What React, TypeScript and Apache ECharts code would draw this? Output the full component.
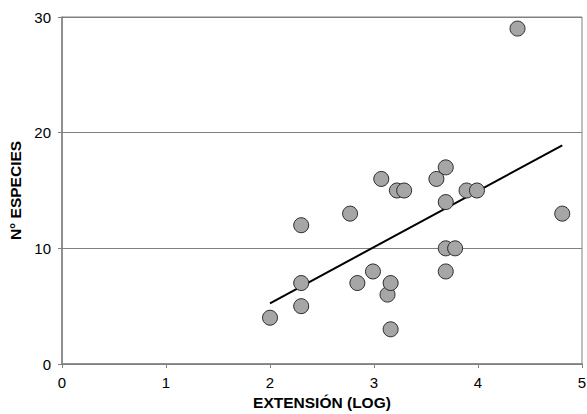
import React, { useEffect, useRef } from "react";
import * as echarts from "echarts";

const xValues = [2.0, 2.3, 2.3, 2.3, 2.77, 2.84, 2.99, 3.07, 3.13, 3.16, 3.16, 3.22, 3.29, 3.6, 3.69, 3.69, 3.69, 3.78, 3.69, 3.89, 3.99, 4.38, 4.81];
const yValues = [4, 12, 7, 5, 13, 7, 8, 16, 6, 7, 3, 15, 15, 16, 17, 14, 10, 10, 8, 15, 15, 29, 13];
const trendX = [2.0, 4.81];
const trendY = [5.25, 18.9];
const xTicks = [0, 1, 2, 3, 4, 5];
const yTicks = [0, 10, 20, 30];

export default function App() {
  const ref = useRef<HTMLDivElement>(null);
  useEffect(() => {
    if (!ref.current) return;
    const chart = echarts.init(ref.current, null, { renderer: "svg" });
    const font = "'Liberation Sans', Arial, sans-serif";
    chart.setOption({
      animation: false,
      backgroundColor: "#ffffff",
      grid: {
        left: 62,
        right: 5,
        top: 17,
        bottom: 50,
        outerBoundsMode: "none",
        containLabel: false,
        show: true,
        borderColor: "#808080",
        borderWidth: 1,
      },
      xAxis: {
        type: "value",
        min: xTicks[0],
        max: xTicks[xTicks.length - 1],
        interval: 1,
        name: "EXTENSIÓN (LOG)",
        nameLocation: "middle",
        nameGap: 30,
        nameTextStyle: { fontFamily: font, fontWeight: "bold", fontSize: 15.5, color: "#000" },
        axisLine: { show: true, lineStyle: { color: "#808080", width: 1.5 } },
        axisTick: { show: true, length: 4, lineStyle: { color: "#808080" } },
        axisLabel: { fontFamily: font, fontSize: 15, color: "#000", margin: 11 },
        splitLine: { show: false },
      },
      yAxis: {
        type: "value",
        min: yTicks[0],
        max: yTicks[yTicks.length - 1],
        interval: 10,
        name: "N° ESPECIES",
        nameLocation: "middle",
        nameGap: 36,
        nameRotate: 90,
        nameTextStyle: { fontFamily: font, fontWeight: "bold", fontSize: 15.5, color: "#000" },
        axisLine: { show: true, lineStyle: { color: "#808080", width: 1.5 } },
        axisTick: { show: true, length: 4, lineStyle: { color: "#808080" } },
        axisLabel: { fontFamily: font, fontSize: 15, color: "#000", margin: 11 },
        splitLine: { show: true, lineStyle: { color: "#808080", width: 1 } },
      },
      series: [
        {
          type: "line",
          data: trendX.map((x, i) => [x, trendY[i]]),
          showSymbol: false,
          symbol: "none",
          lineStyle: { color: "#000", width: 2 },
          z: 3,
        },
        {
          type: "scatter",
          data: xValues.map((x, i) => [x, yValues[i]]),
          symbol: "circle",
          symbolSize: 15,
          itemStyle: { color: "#a6a6a6", borderColor: "#2a2a2a", borderWidth: 1, opacity: 1 },
          z: 4,
        },
      ],
    });
    return () => chart.dispose();
  }, []);
  return <div ref={ref} style={{ width: 587, height: 414, position: "absolute", left: 0, top: 0 }} />;
}
